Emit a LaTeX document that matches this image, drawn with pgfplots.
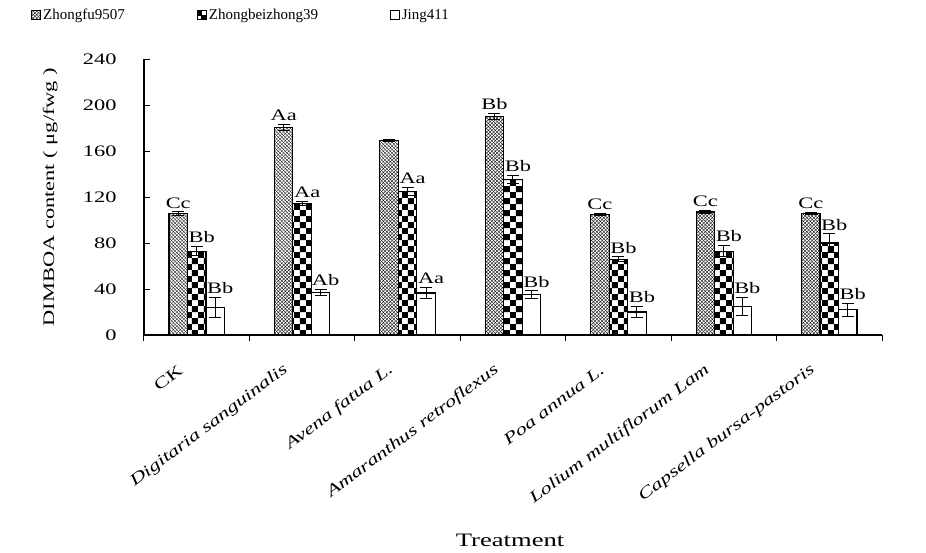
\documentclass[border=0pt]{standalone}
\usepackage{fontspec}
\setmainfont{Liberation Serif}
\newfontfamily\wide[FakeStretch=1.4]{Liberation Serif}
\usepackage{pgfplots}
\pgfplotsset{compat=1.18}
\usepackage{pgfplotstable}
\usetikzlibrary{patterns}

\pgfdeclarepatternformonly{bigcheck}{\pgfpointorigin}{\pgfqpoint{12.4pt}{12.4pt}}{\pgfqpoint{12.4pt}{12.4pt}}{%
  \pgfpathrectangle{\pgfpointorigin}{\pgfqpoint{6.2pt}{6.2pt}}%
  \pgfpathrectangle{\pgfqpoint{6.2pt}{6.2pt}}{\pgfqpoint{6.2pt}{6.2pt}}%
  \pgfusepath{fill}}
\pgfdeclarepatternformonly{finemesh}{\pgfqpoint{-1pt}{-1pt}}{\pgfqpoint{4.5pt}{4.5pt}}{\pgfqpoint{3.5pt}{3.5pt}}{%
  \pgfsetlinewidth{0.35pt}%
  \pgfpathmoveto{\pgfqpoint{-0.1pt}{-0.1pt}}\pgfpathlineto{\pgfqpoint{3.6pt}{3.6pt}}%
  \pgfpathmoveto{\pgfqpoint{-0.1pt}{3.6pt}}\pgfpathlineto{\pgfqpoint{3.6pt}{-0.1pt}}%
  \pgfusepath{stroke}}

\pgfplotstableread{
x y err lab
1 105.5 1.5 Cc
2 180.5 2.5 Aa
3 169 1.0 {}
4 190 2.5 Bb
5 104.5 1.0 Cc
6 107 1.5 Cc
7 105.5 1.0 Cc
}\tZ
\pgfplotstableread{
x y err lab
1 73 4 Bb
2 114.5 2 Aa
3 125 3.5 Aa
4 135.5 3.5 Bb
5 66 2 Bb
6 73 5 Bb
7 80 8 Bb
}\tB
\pgfplotstableread{
x y err lab
1 24 9 Bb
2 37 2.5 Ab
3 36.5 5 Aa
4 35 3.5 Bb
5 20 5 Bb
6 25 8 Bb
7 22 5.5 Bb
}\tJ

\begin{document}
\begin{tikzpicture}
\path[use as bounding box] (-144pt,-217pt) rectangle (782pt,335pt);
\begin{axis}[
  at={(0pt,0pt)}, anchor=south west,
  scale only axis, width=738pt, height=276pt,
  xmin=0.5, xmax=7.5, ymin=0, ymax=240,
  clip=false,
  axis x line*=bottom, axis y line*=left,
  axis line style={line width=1.2pt, black},
  tick align=inside,
  major tick length=6pt,
  tick style={line width=1pt, black},
  ytick={0,40,...,240},
  xtick={0.5,1.5,...,7.5}, xticklabels={},
  extra x ticks={1,2,3,4,5,6,7},
  extra x tick labels={CK, \textit{Digitaria sanguinalis}, \textit{Avena fatua L.}, \textit{Amaranthus retroflexus}, \textit{Poa annua L.}, \textit{Lolium multiflorum Lam}, \textit{Capsella bursa-pastoris}},
  extra x tick style={major tick length=0pt},
  /pgf/number format/assume math mode=true,
  yticklabel style={font=\wide\fontsize{16}{18}\selectfont, xshift=-24pt},
  xticklabel style={font=\wide\fontsize{16}{18}\selectfont, inner sep=0pt, xshift=-16pt, yshift=-33pt, rotate=37, anchor=east},
  ylabel={DIMBOA content ( μg/fwg )},
  ylabel style={font=\wide\fontsize{16}{18}\selectfont, at={(axis description cs:-0.127,0.5)}, anchor=center},
  xlabel={Treatment},
  xlabel style={font=\wide\fontsize{19}{21}\selectfont, at={(axis description cs:0.496,-0.743)}, anchor=center},
  ybar=0pt, bar width=18.5pt,
  error bars/y dir=both, error bars/y explicit,
  error bars/error bar style={line width=1pt, black},
  error bars/error mark options={rotate=90, mark size=6pt, line width=1pt, black},
  nodes near coords, point meta=explicit symbolic,
  visualization depends on={\thisrow{err} \as \err},
  every node near coord/.append style={font=\wide\fontsize{16}{18}\selectfont, inner sep=1pt, yshift=\err*1.15pt+2pt, black},
  legend columns=3,
  legend style={at={(axis description cs:-0.157,1.159)}, anchor=west, draw=none, fill=none,
    font=\fontsize{15}{17}\selectfont,
    /tikz/every even column/.append style={column sep=70pt}},
]
\addplot[draw=black, line width=1.1pt, pattern=finemesh,
  legend image code/.code={\draw[draw=black, line width=0.8pt, pattern=finemesh] (0pt,-4.5pt) rectangle (9pt,4.5pt);}]
  table[x=x, y=y, y error=err, meta=lab]{\tZ};
\addlegendentry{Zhongfu9507}
\addplot[draw=black, line width=1.1pt, pattern=bigcheck,
  every node near coord/.append style={xshift=5pt},
  legend image code/.code={\draw[draw=black, line width=0.8pt, fill=white] (0pt,-4.5pt) rectangle (9pt,4.5pt); \fill[black] (0pt,0pt) rectangle (4.5pt,4.5pt); \fill[black] (4.5pt,-4.5pt) rectangle (9pt,0pt);}]
  table[x=x, y=y, y error=err, meta=lab]{\tB};
\addlegendentry{Zhongbeizhong39}
\addplot[draw=black, line width=1.1pt, fill=white,
  every node near coord/.append style={xshift=5pt},
  legend image code/.code={\draw[draw=black, line width=0.8pt, fill=white] (0pt,-4.5pt) rectangle (9pt,4.5pt);}]
  table[x=x, y=y, y error=err, meta=lab]{\tJ};
\addlegendentry{Jing411}
\end{axis}
\end{tikzpicture}
\end{document}
